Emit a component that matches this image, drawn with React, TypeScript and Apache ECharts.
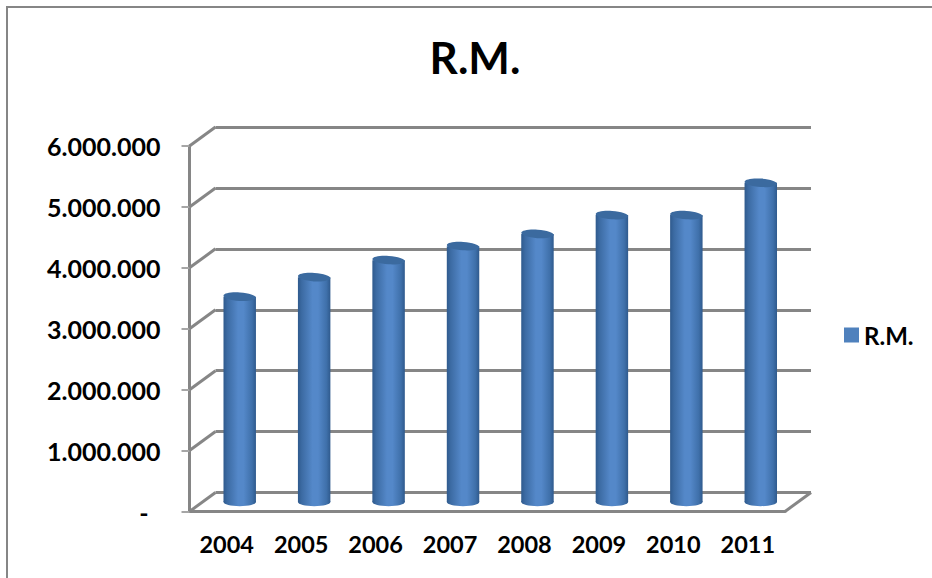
import React, { useEffect, useRef } from "react";
import * as echarts from "echarts";

const chartTitle = "R.M.";
const seriesName = "R.M.";
const years = ["2004", "2005", "2006", "2007", "2008", "2009", "2010", "2011"];
const values = [3370000, 3690000, 3970000, 4200000, 4400000, 4710000, 4710000, 5240000];
const axisValues = [0, 1000000, 2000000, 3000000, 4000000, 5000000, 6000000];
const axisLabels = ["-", "1.000.000", "2.000.000", "3.000.000", "4.000.000", "5.000.000", "6.000.000"];

const FONT = "Lato";
const GREY = "#868686";
const DEPTH_X = 26;
const DEPTH_Y = 19;

const cylinderFill = () =>
  new echarts.graphic.LinearGradient(0, 0, 1, 0, [
    { offset: 0, color: "#2f5a8d" },
    { offset: 0.12, color: "#3c6ba3" },
    { offset: 0.45, color: "#5488c9" },
    { offset: 0.62, color: "#5488c9" },
    { offset: 0.88, color: "#3f70aa" },
    { offset: 1, color: "#2f5a8d" },
  ]);

function renderCylinder(_: any, api: any) {
  const top = api.coord([api.value(0), api.value(1)]);
  const base = api.coord([api.value(0), 0]);
  const halfWidth = api.size([1, 0])[0] * 0.218;
  const ry = 4.2;
  const tilt = -0.07;
  return {
    type: "group",
    children: [
      {
        type: "ellipse",
        x: base[0],
        y: base[1],
        shape: { cx: 0, cy: 0, rx: halfWidth, ry },
        style: { fill: cylinderFill() },
      },
      {
        type: "rect",
        shape: { x: base[0] - halfWidth, y: top[1], width: halfWidth * 2, height: base[1] - top[1] },
        style: { fill: cylinderFill() },
      },
      {
        type: "ellipse",
        x: top[0],
        y: top[1],
        rotation: tilt,
        shape: { cx: 0, cy: 0, rx: halfWidth, ry },
        style: { fill: "#3b6a9f" },
      },
    ],
  };
}

// Slanted strokes that join the front value axis to the back wall.
function renderSideWall(params: any, api: any) {
  const y = api.coord([0, api.value(0)])[1];
  const left = params.coordSys.x;
  const lineStyle = { stroke: GREY, lineWidth: 3, fill: "none" };
  const children: any[] = [
    { type: "line", shape: { x1: left, y1: y, x2: left + DEPTH_X, y2: y - DEPTH_Y }, style: lineStyle },
  ];
  if (api.value(0) === 0) {
    const right = left + params.coordSys.width;
    children.push({
      type: "line",
      shape: { x1: right, y1: y, x2: right + DEPTH_X, y2: y - DEPTH_Y },
      style: lineStyle,
    });
  }
  return { type: "group", children };
}

const yAxisBase = { type: "value", min: 0, max: 6000000, interval: 1000000 };

export default function App() {
  const ref = useRef<HTMLDivElement>(null);

  useEffect(() => {
    const chart = echarts.init(ref.current!, undefined, { renderer: "svg" });
    chart.setOption({
      animation: false,
      backgroundColor: "#ffffff",
      textStyle: { fontFamily: FONT },
      title: {
        text: chartTitle,
        left: 470,
        top: 30,
        textAlign: "center",
        textStyle: { fontFamily: FONT, fontSize: 44, fontWeight: "bold", color: "#000" },
      },
      legend: {
        left: 839,
        top: 318,
        itemWidth: 15,
        itemHeight: 15,
        itemGap: 0,
        data: [{ name: seriesName, icon: "rect", itemStyle: { color: "#4f81bd" } }],
        textStyle: { fontFamily: FONT, fontSize: 24, fontWeight: "bold", color: "#000" },
      },
      grid: [
        { left: 189.5, top: 146, width: 595.5, height: 365.5 },
        { left: 215.5, top: 127, width: 595.5, height: 365.5 },
        { left: 202.5, top: 136.5, width: 595.5, height: 365.5 },
      ],
      xAxis: [
        {
          type: "category",
          gridIndex: 0,
          data: years,
          axisLine: { lineStyle: { color: GREY, width: 3 } },
          axisTick: { length: 8, alignWithLabel: false, lineStyle: { color: "#a6a6a6", width: 2 } },
          axisLabel: { color: "#000", fontFamily: FONT, fontSize: 23.5, fontWeight: "bold", margin: 20 },
        },
        { type: "category", gridIndex: 1, data: years, show: false },
        { type: "category", gridIndex: 2, data: years, show: false },
      ],
      yAxis: [
        {
          ...yAxisBase,
          gridIndex: 0,
          axisLine: { show: true, lineStyle: { color: GREY, width: 3 } },
          axisTick: { show: true, length: 8, lineStyle: { color: "#a6a6a6", width: 2 } },
          splitLine: { show: false },
          axisLabel: {
            color: "#000",
            fontFamily: FONT,
            fontSize: 25,
            fontWeight: "bold",
            margin: 29,
            // The zero entry sits further left than the digit groups.
            formatter: (v: number) =>
              v === 0 ? `{dash|${axisLabels[0]}}` : axisLabels[axisValues.indexOf(v)],
            rich: {
              dash: {
                color: "#000",
                fontFamily: FONT,
                fontSize: 25,
                fontWeight: "bold",
                padding: [0, 12, 0, 0],
              },
            },
          },
        },
        {
          ...yAxisBase,
          gridIndex: 1,
          axisLine: { show: false },
          axisTick: { show: false },
          axisLabel: { show: false },
          splitLine: { show: true, lineStyle: { color: GREY, width: 3 } },
        },
        { ...yAxisBase, gridIndex: 2, show: false, splitLine: { show: false } },
      ],
      series: [
        {
          type: "custom",
          name: "side wall",
          xAxisIndex: 0,
          yAxisIndex: 0,
          silent: true,
          clip: false,
          z: 1,
          data: axisValues.map((v) => [v]),
          encode: { y: 0 },
          renderItem: renderSideWall,
        },
        {
          type: "custom",
          name: seriesName,
          xAxisIndex: 2,
          yAxisIndex: 2,
          clip: false,
          z: 5,
          data: values.map((v, i) => [i, v]),
          encode: { x: 0, y: 1 },
          renderItem: renderCylinder,
        },
      ],
      graphic: [
        {
          type: "polyline",
          silent: true,
          shape: { points: [[7, 578], [7, 7], [932, 7]] },
          style: { stroke: GREY, lineWidth: 2, fill: "none" },
        },
      ],
    });
    return () => chart.dispose();
  }, []);

  return <div ref={ref} style={{ position: "fixed", left: 0, top: 0, width: 932, height: 578 }} />;
}
